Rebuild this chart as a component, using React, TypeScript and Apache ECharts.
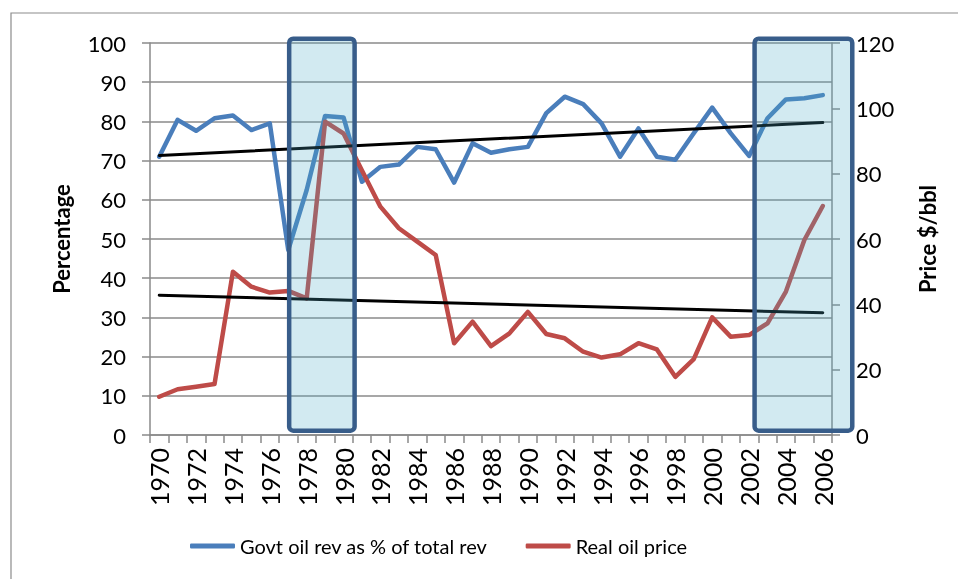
import React, { useEffect, useRef } from 'react';
import * as echarts from 'echarts';

const years = [
  '1970', '1971', '1972', '1973', '1974', '1975', '1976', '1977', '1978', '1979',
  '1980', '1981', '1982', '1983', '1984', '1985', '1986', '1987', '1988', '1989',
  '1990', '1991', '1992', '1993', '1994', '1995', '1996', '1997', '1998', '1999',
  '2000', '2001', '2002', '2003', '2004', '2005', '2006',
];

// Govt oil revenue as % of total revenue (left axis)
const govtRev = [
  71.0, 80.4, 77.6, 80.8, 81.5, 77.8, 79.5, 47.2, 62.5, 81.4,
  81.0, 64.6, 68.4, 69.0, 73.5, 72.9, 64.4, 74.4, 72.0, 72.9,
  73.5, 82.1, 86.3, 84.4, 79.5, 71.0, 78.2, 71.0, 70.2, 77.0,
  83.5, 77.0, 71.2, 80.8, 85.6, 85.9, 86.7,
];

// Real oil price, $/bbl (right axis)
const realPrice = [
  11.7, 14.0, 14.8, 15.6, 50.0, 45.4, 43.6, 44.1, 41.8, 95.9,
  92.3, 81.0, 69.9, 63.3, 59.2, 55.1, 28.1, 34.7, 27.2, 31.1,
  37.7, 30.9, 29.6, 25.5, 23.7, 24.7, 28.1, 26.2, 17.8, 23.2,
  36.0, 30.1, 30.6, 34.2, 43.9, 59.7, 70.1,
];

// Linear trend lines (start, end values)
const revTrendEnds = [71.3, 79.7];
const priceTrendEnds = [42.8, 37.4];

// Highlight boxes: category-index extents, value (left axis) extents
const highlightSpans = [
  [7.05, 10.6],
  [32.3, 37.6],
];
const highlightValueRange = [1.1, 101.1];

const leftAxis = { min: 0, max: 100, interval: 10 };
const rightAxis = { min: 0, max: 120, interval: 20 };

const seriesNames = ['Govt oil rev as % of total rev', 'Real oil price'];

export default function App() {
  const ref = useRef<HTMLDivElement>(null);

  useEffect(() => {
    document.body.style.margin = '0';
    const chart = echarts.init(ref.current!, null, { renderer: 'svg' });
    const font = 'Lato';
    const gray = '#8a8a8a';

    chart.setOption({
      animation: false,
      textStyle: { fontFamily: font, color: '#000' },
      grid: { left: 150, right: 126, top: 43, bottom: 144 },
      legend: {
        data: seriesNames,
        left: 190,
        top: 536,
        padding: 0,
        icon: 'roundRect',
        itemWidth: 45,
        itemHeight: 5,
        itemGap: 38,
        textStyle: { fontFamily: font, fontSize: 20, color: '#000' },
      },
      xAxis: {
        type: 'category',
        data: years,
        boundaryGap: true,
        axisLine: { show: true, lineStyle: { color: gray, width: 1.5 } },
        axisTick: { show: true, interval: 0, length: 8, lineStyle: { color: gray, width: 1.5 } },
        axisLabel: { interval: 1, rotate: 90, fontSize: 25, margin: 13, color: '#000', fontFamily: font },
        splitLine: { show: false },
      },
      yAxis: [
        {
          type: 'value',
          ...leftAxis,
          name: 'Percentage',
          nameLocation: 'middle',
          nameRotate: 90,
          nameGap: 78,
          nameTextStyle: { fontWeight: 'bold', fontSize: 22, fontFamily: font, color: '#000' },
          axisLine: { show: true, lineStyle: { color: gray, width: 1.5 } },
          axisTick: { show: true, length: 8, lineStyle: { color: gray, width: 1.5 } },
          axisLabel: { fontSize: 22, margin: 24, color: '#000', fontFamily: font },
          splitLine: { show: true, lineStyle: { color: gray, width: 1.5 } },
        },
        {
          type: 'value',
          ...rightAxis,
          position: 'right',
          name: 'Price $/bbl',
          nameLocation: 'middle',
          nameRotate: 90,
          nameGap: 84,
          nameTextStyle: { fontWeight: 'bold', fontSize: 22, fontFamily: font, color: '#000' },
          axisLine: { show: true, lineStyle: { color: gray, width: 1.5 } },
          axisTick: { show: true, length: 8, lineStyle: { color: gray, width: 1.5 } },
          axisLabel: { fontSize: 22, margin: 24, color: '#000', fontFamily: font },
          splitLine: { show: false },
        },
      ],
      series: [
        {
          name: seriesNames[0],
          type: 'line',
          yAxisIndex: 0,
          data: govtRev,
          symbol: 'none',
          color: '#4A7EBB',
          lineStyle: { width: 4.5, color: '#4A7EBB', cap: 'round', join: 'round' },
          z: 3,
        },
        {
          name: seriesNames[1],
          type: 'line',
          yAxisIndex: 1,
          data: realPrice,
          symbol: 'none',
          color: '#BE4B48',
          lineStyle: { width: 4.5, color: '#BE4B48', cap: 'round', join: 'round' },
          z: 4,
        },
        {
          name: 'rev trend',
          type: 'line',
          yAxisIndex: 0,
          data: [
            [years[0], revTrendEnds[0]],
            [years[years.length - 1], revTrendEnds[1]],
          ],
          symbol: 'none',
          silent: true,
          lineStyle: { width: 3, color: '#000', cap: 'round' },
          z: 5,
        },
        {
          name: 'price trend',
          type: 'line',
          yAxisIndex: 1,
          data: [
            [years[0], priceTrendEnds[0]],
            [years[years.length - 1], priceTrendEnds[1]],
          ],
          symbol: 'none',
          silent: true,
          lineStyle: { width: 3, color: '#000', cap: 'round' },
          z: 5,
        },
      ],
    });

    const x0 = chart.convertToPixel({ xAxisIndex: 0 }, 0) as number;
    const xN = chart.convertToPixel({ xAxisIndex: 0 }, years.length - 1) as number;
    const band = (xN - x0) / (years.length - 1);
    const yTop = chart.convertToPixel({ yAxisIndex: 0 }, highlightValueRange[1]) as number;
    const yBot = chart.convertToPixel({ yAxisIndex: 0 }, highlightValueRange[0]) as number;

    const boxes = highlightSpans.map(([a, b]) => ({
      type: 'rect',
      z: 100,
      silent: true,
      shape: { x: x0 + a * band, y: yTop, width: (b - a) * band, height: yBot - yTop, r: 4 },
      style: { fill: 'rgba(75,172,198,0.25)', stroke: '#385D8A', lineWidth: 4.5 },
    }));

    chart.setOption({
      graphic: [
        {
          type: 'rect',
          z: 0,
          silent: true,
          shape: { x: 11, y: 13, width: 1000, height: 1000 },
          style: { fill: 'none', stroke: '#8c8c8c', lineWidth: 1.2 },
        },
        ...boxes,
      ],
    });

    return () => chart.dispose();
  }, []);

  return <div ref={ref} style={{ position: 'fixed', left: 0, top: 0, width: 958, height: 579 }} />;
}
